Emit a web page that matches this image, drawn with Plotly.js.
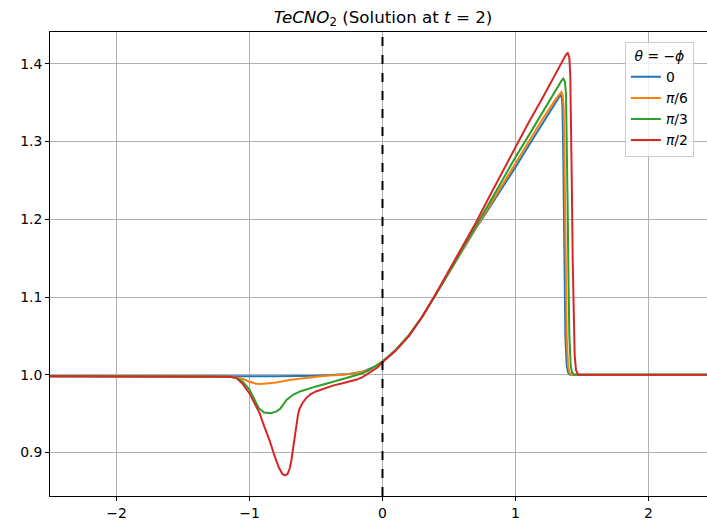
<!DOCTYPE html>
<html>
<head>
<meta charset="utf-8">
<script src="https://cdn.plot.ly/plotly-3.0.1.min.js"></script>
<style>html,body{margin:0;padding:0;background:#fff;}#chart{width:707px;height:527px;}</style>
</head>
<body>
<div id="chart"></div>
<script>
// Series names (legend)
const seriesNames = ['0', '<i>π</i>/6', '<i>π</i>/3', '<i>π</i>/2'];
const seriesColors = ['#1f77b4', '#ff7f0e', '#2ca02c', '#d62728'];

// theta = 0
const x0 = [-2.5,-2,-1.5,-1.1,-0.8,-0.5,-0.35,-0.25,-0.15,-0.1,-0.05,0,0.05,0.1,0.2,0.3,0.4,0.5,0.6,0.7,0.8,0.9,1.0,1.1,1.2,1.3,1.325,1.338,1.348,1.353,1.358,1.363,1.368,1.375,1.385,1.395,1.41,1.5,2,2.44];
const y0 = [0.998,0.998,0.9977,0.9976,0.998,0.9987,0.9995,1.001,1.004,1.007,1.011,1.017,1.024,1.032,1.051,1.075,1.103,1.131,1.16,1.188,1.214,1.24,1.267,1.295,1.323,1.35,1.357,1.36,1.357,1.345,1.3,1.22,1.13,1.05,1.012,1.003,1.0,1.0,1.0,1.0];

// theta = pi/6
const x1 = [-2.5,-2,-1.5,-1.15,-1.1,-1.05,-1.0,-0.95,-0.91,-0.85,-0.8,-0.7,-0.6,-0.5,-0.4,-0.3,-0.2,-0.1,-0.05,0,0.05,0.1,0.2,0.3,0.4,0.5,0.6,0.7,0.8,0.9,1.0,1.1,1.2,1.3,1.33,1.345,1.355,1.362,1.367,1.372,1.378,1.385,1.395,1.405,1.42,1.5,2,2.44];
const y1 = [0.998,0.998,0.9977,0.9975,0.9965,0.9945,0.991,0.9885,0.988,0.9888,0.99,0.9932,0.9955,0.9975,0.999,1.0,1.002,1.006,1.011,1.017,1.024,1.032,1.051,1.075,1.103,1.131,1.16,1.189,1.216,1.244,1.272,1.3,1.328,1.354,1.361,1.364,1.36,1.345,1.3,1.22,1.13,1.05,1.012,1.003,1.0,1.0,1.0,1.0];

// theta = pi/3
const x2 = [-2.5,-2,-1.5,-1.15,-1.1,-1.05,-1.0,-0.96,-0.93,-0.89,-0.84,-0.8,-0.77,-0.72,-0.67,-0.62,-0.5,-0.37,-0.25,-0.15,-0.1,-0.05,0,0.05,0.1,0.2,0.3,0.4,0.5,0.6,0.7,0.8,0.9,1.0,1.1,1.2,1.3,1.345,1.36,1.372,1.38,1.386,1.392,1.398,1.405,1.415,1.425,1.44,1.5,2,2.44];
const y2 = [0.998,0.998,0.9977,0.9975,0.996,0.991,0.981,0.966,0.957,0.9515,0.9505,0.9525,0.956,0.968,0.9745,0.9785,0.985,0.991,0.9975,1.002,1.006,1.011,1.017,1.024,1.032,1.051,1.075,1.103,1.132,1.161,1.19,1.22,1.25,1.28,1.308,1.337,1.366,1.378,1.381,1.377,1.36,1.31,1.22,1.13,1.05,1.012,1.003,1.0,1.0,1.0,1.0];

// theta = pi/2
const x3 = [-2.5,-2,-1.5,-1.15,-1.1,-1.05,-1.0,-0.96,-0.925,-0.89,-0.85,-0.81,-0.78,-0.755,-0.735,-0.715,-0.698,-0.685,-0.674,-0.66,-0.649,-0.635,-0.624,-0.6,-0.574,-0.54,-0.5,-0.44,-0.374,-0.3,-0.248,-0.2,-0.15,-0.123,-0.08,-0.04,0,0.05,0.1,0.2,0.3,0.4,0.5,0.6,0.7,0.8,0.9,1.0,1.1,1.2,1.3,1.35,1.38,1.393,1.405,1.412,1.418,1.424,1.43,1.437,1.445,1.455,1.47,1.5,2,2.44];
const y3 = [0.998,0.998,0.9977,0.9975,0.996,0.988,0.976,0.963,0.951,0.934,0.916,0.895,0.881,0.873,0.8705,0.872,0.879,0.89,0.903,0.922,0.938,0.949,0.956,0.964,0.97,0.975,0.9785,0.982,0.986,0.989,0.991,0.9935,0.997,1.0,1.004,1.009,1.016,1.023,1.031,1.05,1.075,1.104,1.134,1.164,1.195,1.228,1.261,1.294,1.325,1.355,1.386,1.402,1.412,1.414,1.408,1.385,1.33,1.24,1.15,1.07,1.025,1.006,1.0,1.0,1.0,1.0];

const xs = [x0, x1, x2, x3];
const ys = [y0, y1, y2, y3];

const xTicks = [-2, -1, 0, 1, 2];
const yTicks = [0.9, 1.0, 1.1, 1.2, 1.3, 1.4];
const xRange = [-2.5, 2.44];
const yRange = [0.844, 1.441];
const dashedX = 0;

const traces = xs.map((x, i) => ({
  x: x, y: ys[i], type: 'scatter', mode: 'lines', name: seriesNames[i],
  line: {color: seriesColors[i], width: 2}
}));

const layout = {
  width: 707, height: 527,
  margin: {l: 50, r: 0, t: 32, b: 31},
  paper_bgcolor: '#fff', plot_bgcolor: '#fff',
  font: {family: 'DejaVu Sans', size: 14, color: '#000'},
  title: {
    text: '<i>TeCNO</i><sub>2</sub> (Solution at <i>t</i> = 2)',
    font: {family: 'DejaVu Sans', size: 16.7, color: '#000'},
    x: 0.507, xref: 'paper', xanchor: 'center',
    y: 0.968, yref: 'container', yanchor: 'middle'
  },
  xaxis: {
    range: xRange, tickvals: xTicks, ticks: 'outside', ticklen: 4, tickcolor: '#000',
    showgrid: true, gridcolor: '#b0b0b0', gridwidth: 1, zeroline: false,
    showline: true, linecolor: '#000', linewidth: 1, mirror: true,
    tickfont: {size: 13.9, color: '#000'}
  },
  yaxis: {
    range: yRange, tickvals: yTicks, tickformat: '.1f', ticks: 'outside', ticklen: 4, tickcolor: '#000',
    showgrid: true, gridcolor: '#b0b0b0', gridwidth: 1, zeroline: false,
    showline: true, linecolor: '#000', linewidth: 1, mirror: false,
    tickfont: {size: 13.9, color: '#000'}
  },
  shapes: [{
    type: 'line', xref: 'x', yref: 'paper', x0: dashedX, x1: dashedX, y0: 0, y1: 1,
    line: {color: '#000', width: 2, dash: 'dash'}, layer: 'above'
  }],
  legend: {
    x: 0.875, y: 0.978, xanchor: 'left', yanchor: 'top',
    bgcolor: 'rgba(255,255,255,0.8)', bordercolor: '#cccccc', borderwidth: 1,
    font: {size: 13.9, color: '#000'},
    entrywidth: 78, entrywidthmode: 'pixels',
    title: {text: '<i>θ</i> = −<i>ϕ</i>', side: 'top center', font: {size: 13.9}}
  },
  showlegend: true
};

Plotly.newPlot('chart', traces, layout, {displayModeBar: false, staticPlot: true});
</script>
</body>
</html>
